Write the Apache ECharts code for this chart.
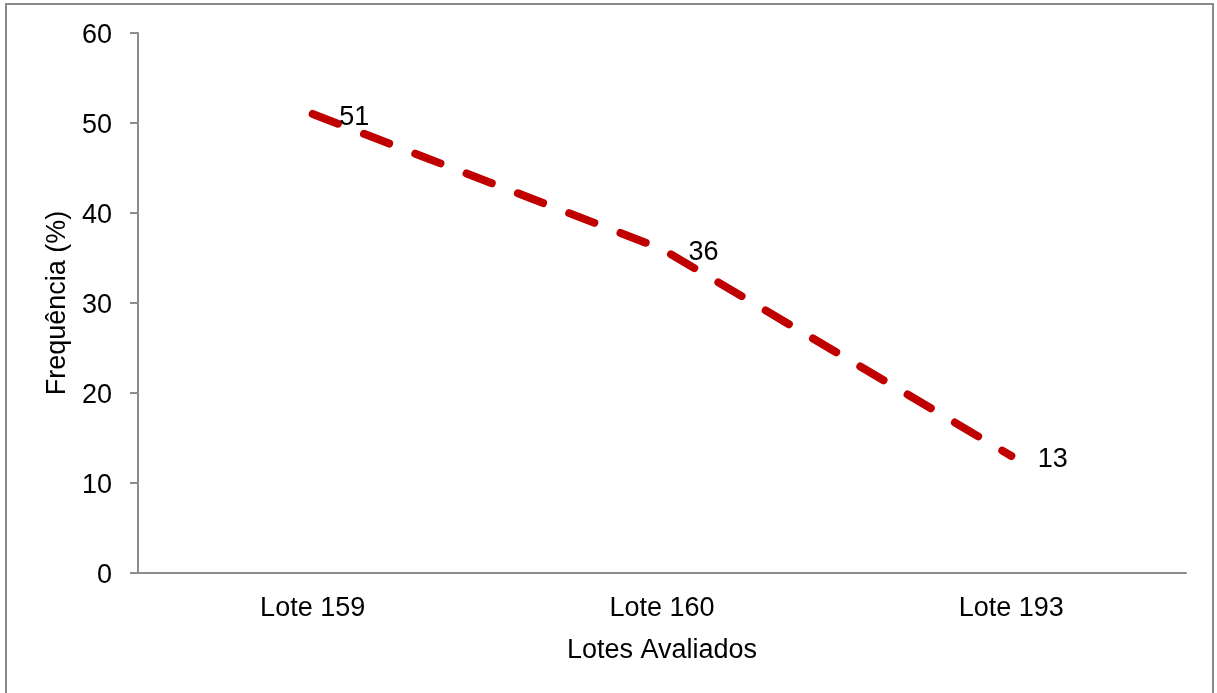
<!DOCTYPE html>
<html>
<head>
<meta charset="utf-8">
<script src="https://cdn.jsdelivr.net/npm/echarts@6/dist/echarts.min.js"></script>
<style>
html,body{margin:0;padding:0;background:#fff;}
#frame{position:absolute;left:5px;top:3px;width:1209px;height:720px;border:2px solid #8a8a8a;box-sizing:border-box;}
#chart{position:absolute;left:0;top:0;width:1217px;height:693px;}
</style>
</head>
<body>
<div id="frame"></div>
<div id="chart"></div>
<script>
const categories = ['Lote 159', 'Lote 160', 'Lote 193'];
const frequencia = [51, 36, 13];
const yTicks = [0, 10, 20, 30, 40, 50, 60];

const chart = echarts.init(document.getElementById('chart'), null, {renderer: 'canvas'});
const font = 'Liberation Sans, Arial, sans-serif';
chart.setOption({
  backgroundColor: 'transparent',
  animation: false,
  grid: {left: 138, right: 31, top: 33, bottom: 120, containLabel: false},
  xAxis: {
    type: 'category',
    data: categories,
    boundaryGap: true,
    name: 'Lotes Avaliados',
    nameLocation: 'middle',
    nameGap: 64,
    nameTextStyle: {fontFamily: font, fontSize: 27, color: '#000'},
    axisLine: {lineStyle: {color: '#8c8c8c', width: 2}},
    axisTick: {show: false},
    axisLabel: {fontFamily: font, fontSize: 27, color: '#000', margin: 22}
  },
  yAxis: {
    type: 'value',
    min: yTicks[0],
    max: yTicks[yTicks.length - 1],
    interval: 10,
    name: 'Frequência (%)',
    nameLocation: 'middle',
    nameGap: 64,
    nameTextStyle: {fontFamily: font, fontSize: 27, color: '#000'},
    axisLine: {show: true, lineStyle: {color: '#8c8c8c', width: 2}},
    axisTick: {show: true, length: 8, lineStyle: {color: '#8c8c8c', width: 2}},
    splitLine: {show: false},
    axisLabel: {
      fontFamily: font, fontSize: 27, color: '#000', margin: 26,
      formatter: '{a|{value}}',
      rich: {a: {fontFamily: font, fontSize: 27, color: '#000', padding: [6, 0, 0, 0]}}
    }
  },
  series: [{
    type: 'line',
    data: frequencia,
    symbol: 'circle',
    symbolSize: 1,
    itemStyle: {color: 'rgba(0,0,0,0)'},
    lineStyle: {color: '#c00000', width: 8, type: [27, 28], cap: 'round'},
    label: {
      show: true,
      position: 'right',
      distance: 26,
      offset: [0, 4],
      fontFamily: font,
      fontSize: 27,
      color: '#000'
    }
  }]
});
</script>
</body>
</html>
